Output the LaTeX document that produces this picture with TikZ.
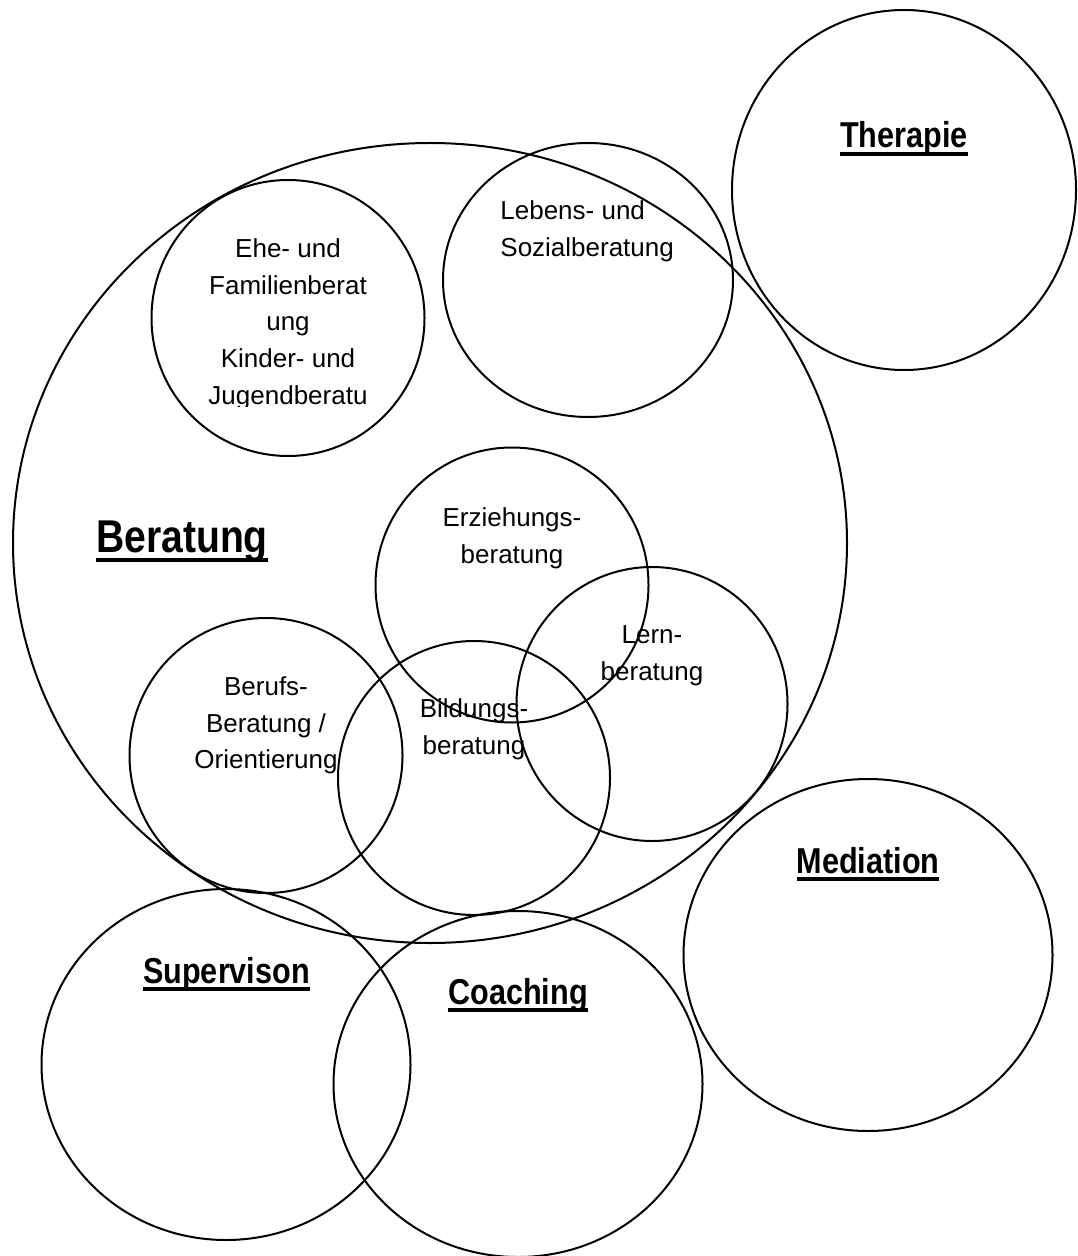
\documentclass[tikz,border=0pt]{standalone}
\usepackage{fontspec}
\setmainfont{Liberation Sans}
\newfontfamily\narrowsans[FakeStretch=0.85]{Liberation Sans}
\usetikzlibrary{shapes.geometric}

\newsavebox{\titlebox}
\newcommand{\ultitle}[1]{\sbox{\titlebox}{#1}\rlap{\rule[-0.21em]{\wd\titlebox}{0.09em}}\usebox{\titlebox}}

\begin{document}
\begin{tikzpicture}[x=0.5pt,y=-0.5pt,
	blob/.style={draw, ellipse, line width=1pt, inner sep=0pt, outer sep=0pt},
	field/.style={inner sep=0pt, align=center, anchor=north, font=\fontsize{13}{18.3}\selectfont},
	title/.style={inner sep=0pt, anchor=base, font=\narrowsans\bfseries\fontsize{18}{22}\selectfont}]
	\useasboundingbox (0,0) rectangle (1077,1256);
	% big field and the neighbours
	\node[blob, minimum width=417pt, minimum height=400pt] (beratung) at (430,543) {};
	\node[blob, minimum width=172pt, minimum height=180pt] (therapie) at (904,190) {};
	\node[blob, minimum width=184.5pt, minimum height=176pt] (mediation) at (868,955) {};
	\node[blob, minimum width=184.5pt, minimum height=175.5pt] (supervision) at (226,1064.5) {};
	\node[blob, minimum width=184.5pt, minimum height=173pt] (coaching) at (518,1084) {};
	% inner fields
	\node[blob, minimum width=136.5pt, minimum height=138pt] (ehe) at (288,318) {};
	\node[blob, minimum width=145pt, minimum height=137pt] (lebens) at (588,280) {};
	\node[blob, minimum width=136.5pt, minimum height=137.5pt] (erziehung) at (512,585) {};
	\node[blob, minimum width=135.5pt, minimum height=137pt] (lern) at (652,704) {};
	\node[blob, minimum width=136.5pt, minimum height=137.5pt] (berufs) at (266,755.5) {};
	\node[blob, minimum width=136pt, minimum height=137pt] (bildung) at (474,778) {};

	\begin{scope}
		\clip (150,180) rectangle (430,407);
		\node[field] (ehetext) at (288,238.4) {Ehe- und\\Familienberat\\ung\\Kinder- und\\Jugendberatu};
	\end{scope}
	\node[field, anchor=north west, align=left] (lebenstext) at (500,200.4) {Lebens- und\\Sozialberatung};
	\node[field] (erziehungtext) at (512,507.4) {Erziehungs-\\beratung};
	\node[field] (lerntext) at (652,625.4) {Lern-\\beratung};
	\node[field] (bildungtext) at (474,698.4) {Bildungs-\\beratung};
	\node[field] (berufstext) at (266,676.4) {Berufs-\\Beratung /\\Orientierung};

	\node[title, font=\narrowsans\bfseries\fontsize{23}{28}\selectfont] (beratungtext) at (182,552) {\ultitle{Beratung}};
	\node[title] (therapietext) at (904,148) {\ultitle{Therapie}};
	\node[title] (mediationtext) at (868,873) {\ultitle{Mediation}};
	\node[title] (supervisiontext) at (226.5,983) {\ultitle{Supervison}};
	\node[title] (coachingtext) at (518,1004) {\ultitle{Coaching}};
\end{tikzpicture}
\end{document}
